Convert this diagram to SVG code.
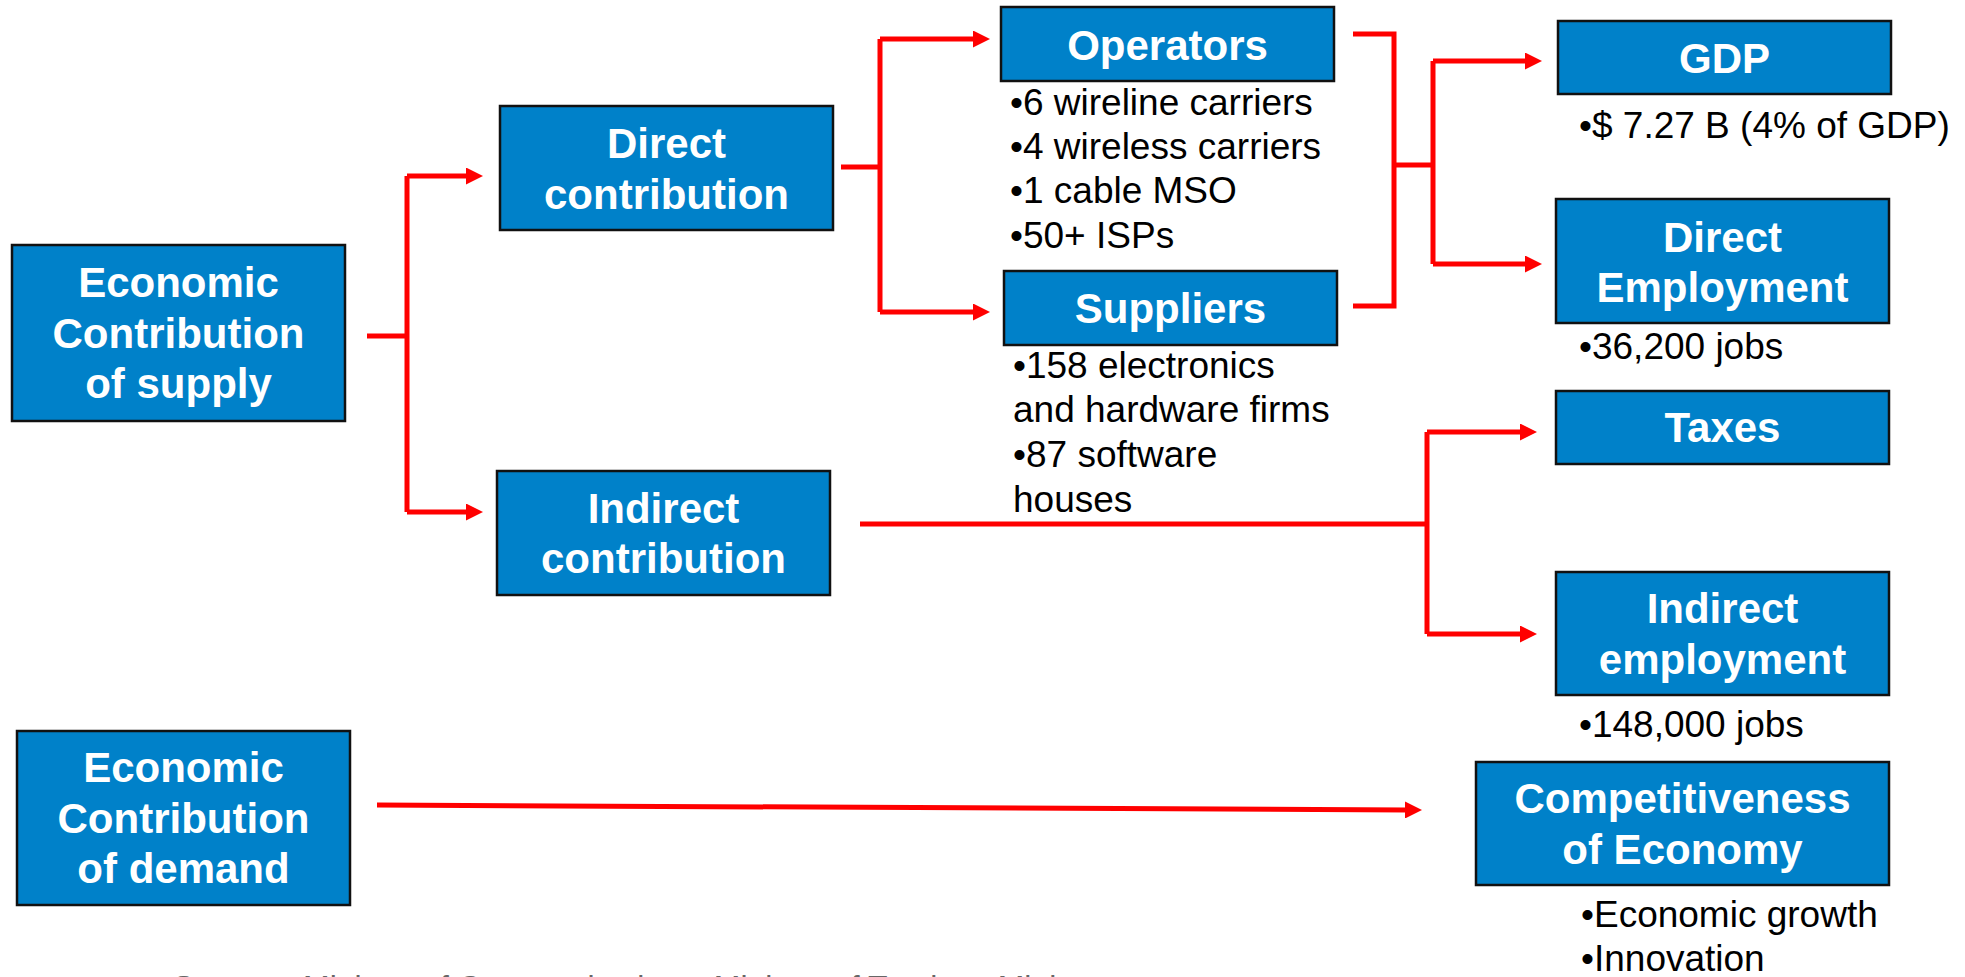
<svg xmlns="http://www.w3.org/2000/svg" width="1965" height="977" viewBox="0 0 1965 977">
<style>
.box{fill:#0081C9;stroke:#111;stroke-width:2.5}
.t{font-family:"Liberation Sans",Arial,sans-serif;font-weight:bold;font-size:42px;fill:#fff;text-anchor:middle}
.b{font-family:"Liberation Sans",Arial,sans-serif;font-size:37px;fill:#000}
.src{font-family:"Liberation Sans",Arial,sans-serif;font-size:32px;fill:#666}
.c{fill:none;stroke:#FF0000;stroke-width:5}
.a{fill:none;stroke:#FF0000;stroke-width:5;marker-end:url(#ah)}
</style>
<defs>
<marker id="ah" markerUnits="userSpaceOnUse" viewBox="0 0 17 17" markerWidth="17" markerHeight="17" refX="2" refY="8.5" orient="auto">
<path d="M0,0 L17,8.5 L0,17 Z" fill="#FF0000"/>
</marker>
</defs>
<rect width="1965" height="977" fill="#fff"/>
<g id="connectors">
<path class="c" d="M367,336 H407"/>
<path class="c" d="M407,176 V512"/>
<path class="a" d="M407,176 H468"/>
<path class="a" d="M407,512 H468"/>
<path class="c" d="M841,167 H880"/>
<path class="c" d="M880,39 V312"/>
<path class="a" d="M880,39 H975"/>
<path class="a" d="M880,312 H975"/>
<path class="c" d="M1353,34 H1394 V306 H1353"/>
<path class="c" d="M1394,165 H1433"/>
<path class="c" d="M1433,61 V264"/>
<path class="a" d="M1433,61 H1527"/>
<path class="a" d="M1433,264 H1527"/>
<path class="c" d="M860,524 H1427"/>
<path class="c" d="M1427,432 V634"/>
<path class="a" d="M1427,432 H1522"/>
<path class="a" d="M1427,634 H1522"/>
<path class="a" d="M377,805 L1407,810"/>
</g>
<g id="supply">
<rect class="box" x="12" y="245" width="333" height="176"/>
<text class="t" x="178.5" y="297">Economic</text>
<text class="t" x="178.5" y="348">Contribution</text>
<text class="t" x="178.5" y="398">of supply</text>
</g>
<g id="direct">
<rect class="box" x="500" y="106" width="333" height="124"/>
<text class="t" x="666.5" y="158">Direct</text>
<text class="t" x="666.5" y="209">contribution</text>
</g>
<g id="indirect">
<rect class="box" x="497" y="471" width="333" height="124"/>
<text class="t" x="663.5" y="523">Indirect</text>
<text class="t" x="663.5" y="573">contribution</text>
</g>
<g id="operators">
<rect class="box" x="1001" y="7" width="333" height="74"/>
<text class="t" x="1167.5" y="60">Operators</text>
<text class="b" x="1010" y="115">•6 wireline carriers</text>
<text class="b" x="1010" y="159">•4 wireless carriers</text>
<text class="b" x="1010" y="203">•1 cable MSO</text>
<text class="b" x="1010" y="248">•50+ ISPs</text>
</g>
<g id="suppliers">
<rect class="box" x="1004" y="271" width="333" height="74"/>
<text class="t" x="1170.5" y="323">Suppliers</text>
<text class="b" x="1013" y="378">•158 electronics</text>
<text class="b" x="1013" y="422">and hardware firms</text>
<text class="b" x="1013" y="467">•87 software</text>
<text class="b" x="1013" y="512">houses</text>
</g>
<g id="gdp">
<rect class="box" x="1558" y="21" width="333" height="73"/>
<text class="t" x="1724.5" y="73">GDP</text>
<text class="b" x="1579" y="138">•$ 7.27 B (4% of GDP)</text>
</g>
<g id="direct-employment">
<rect class="box" x="1556" y="199" width="333" height="124"/>
<text class="t" x="1722.5" y="252">Direct</text>
<text class="t" x="1722.5" y="302">Employment</text>
<text class="b" x="1579" y="359">•36,200 jobs</text>
</g>
<g id="taxes">
<rect class="box" x="1556" y="391" width="333" height="73"/>
<text class="t" x="1722.5" y="442">Taxes</text>
</g>
<g id="indirect-employment">
<rect class="box" x="1556" y="572" width="333" height="123"/>
<text class="t" x="1722.5" y="623">Indirect</text>
<text class="t" x="1722.5" y="674">employment</text>
<text class="b" x="1579" y="737">•148,000 jobs</text>
</g>
<g id="demand">
<rect class="box" x="17" y="731" width="333" height="174"/>
<text class="t" x="183.5" y="782">Economic</text>
<text class="t" x="183.5" y="833">Contribution</text>
<text class="t" x="183.5" y="883">of demand</text>
</g>
<g id="competitiveness">
<rect class="box" x="1476" y="762" width="413" height="123"/>
<text class="t" x="1682.5" y="813">Competitiveness</text>
<text class="t" x="1682.5" y="864">of Economy</text>
<text class="b" x="1581" y="927">•Economic growth</text>
<text class="b" x="1581" y="971">•Innovation</text>
</g>
<g id="source">
<text class="src" y="998"><tspan x="173">Source:</tspan><tspan x="303">Ministry of Communications, Ministry of Tourism, Ministry</tspan></text>
</g>
</svg>
